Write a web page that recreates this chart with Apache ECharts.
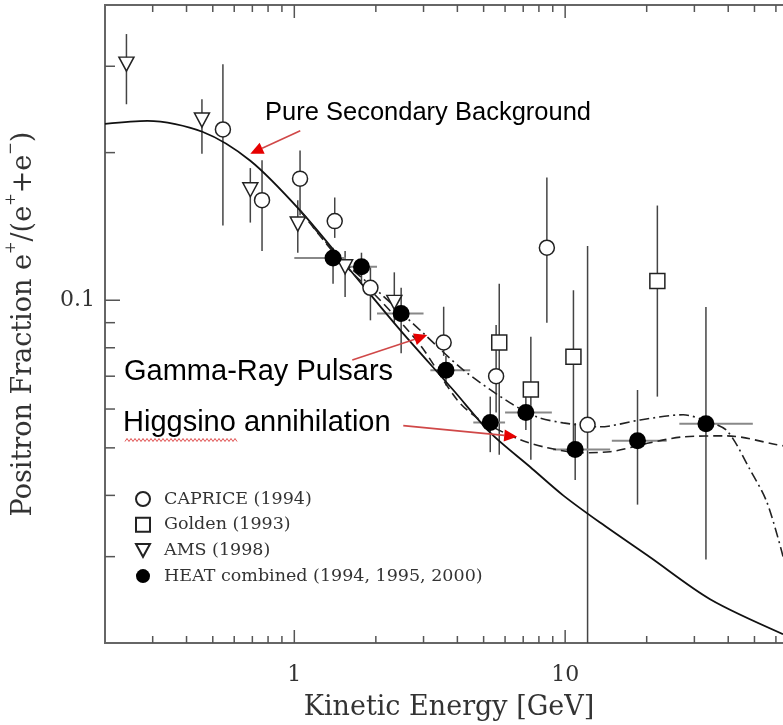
<!DOCTYPE html>
<html><head><meta charset="utf-8">
<script src="https://cdn.jsdelivr.net/npm/echarts@6/dist/echarts.min.js"></script>
<style>html,body{margin:0;padding:0;background:#fff}#c{width:783px;height:725px}</style>
</head><body><div id="c"></div>
<script>
// ---------------- data ----------------
// AMS (1998): [E, fraction, lower, upper]
const amsData = [
  [0.24, 0.303, 0.251, 0.349],
  [0.456, 0.233, 0.199, 0.257],
  [0.688, 0.168, 0.144, 0.186],
  [1.03, 0.143, 0.125, 0.160],
  [1.54, 0.117, 0.1015, 0.126],
  [2.34, 0.099, 0.090, 0.114]
];
// CAPRICE (1994)
const capriceData = [
  [0.545, 0.223, 0.142, 0.303],
  [0.76, 0.160, 0.126, 0.193],
  [1.05, 0.177, 0.149, 0.202],
  [1.41, 0.145, 0.134, 0.162],
  [1.91, 0.106, 0.091, 0.117],
  [3.56, 0.082, 0.077, 0.097],
  [5.56, 0.070, 0.059, 0.089],
  [8.56, 0.128, 0.090, 0.178],
  [12.1, 0.0557, 0.020, 0.129]
];
// Golden (1993)
const goldenData = [
  [5.71, 0.082, 0.0484, 0.108],
  [7.47, 0.0658, 0.0473, 0.0842],
  [10.73, 0.0767, 0.0489, 0.1048],
  [21.9, 0.1095, 0.0636, 0.156]
];
// HEAT combined: [E, fraction, Elow, Ehigh, lower, upper]
const heatData = [
  [1.39, 0.122, 1.0, 1.55, 0.108, 0.128],
  [1.77, 0.117, 1.54, 2.02, 0.108, 0.125],
  [2.48, 0.094, 2.02, 3.0, 0.078, 0.106],
  [3.63, 0.072, 3.18, 4.46, 0.067, 0.077],
  [5.29, 0.0563, 4.58, 6.0, 0.049, 0.0636],
  [7.16, 0.059, 6.0, 8.93, 0.0544, 0.0667],
  [10.89, 0.0496, 9.03, 14.66, 0.043, 0.0562],
  [18.5, 0.0517, 14.87, 23.7, 0.0383, 0.0656],
  [33.1, 0.056, 26.4, 49.3, 0.0296, 0.0969]
];
// model curves
const secondaryCurve = [
  [0.2, 0.229], [0.287, 0.2322], [0.4575, 0.2206], [0.688, 0.1925], [1.052, 0.1523],
  [1.609, 0.1151], [2.461, 0.0869], [3.862, 0.0656], [5.287, 0.0537], [7.43, 0.0457],
  [9.83, 0.0400], [13.46, 0.0352], [20.59, 0.0299], [34.28, 0.02456], [63.75, 0.02085]
];
const pulsarCurve = [
  [1.052, 0.1523], [1.478, 0.1217], [2.076, 0.1033], [2.992, 0.0857], [4.204, 0.0721],
  [6.266, 0.06175], [7.883, 0.0578], [9.83, 0.05623], [13.46, 0.0552], [18.92, 0.0570],
  [27.26, 0.0584], [33.14, 0.05675], [39.61, 0.05416], [48.16, 0.04513], [55.65, 0.03867],
  [63.75, 0.03003]
];
const higgsinoCurve = [
  [1.052, 0.1523], [1.478, 0.1206], [2.076, 0.100], [2.917, 0.081], [3.996, 0.0626],
  [4.857, 0.0570], [6.823, 0.05195], [8.58, 0.05004], [11.36, 0.04887], [14.66, 0.0491],
  [20.59, 0.0512], [27.26, 0.05265], [39.61, 0.0529], [60.57, 0.05075], [70, 0.0500]
];
// axis ticks
const xMajorTicks = [1, 10];
const xMinorTicks = [0.3, 0.4, 0.5, 0.6, 0.7, 0.8, 0.9, 2, 3, 4, 5, 6, 7, 8, 9, 20, 30, 40, 50, 60, 70, 80, 90];
const yMajorTicks = [0.1];
const yMinorTicks = [0.03, 0.04, 0.05, 0.06, 0.07, 0.08, 0.09, 0.2, 0.3];
const xRange = [0.2, 100];
const yRange = [0.02, 0.4];
const seriesNames = ['CAPRICE (1994)', 'Golden (1993)', 'AMS (1998)', 'HEAT combined (1994, 1995, 2000)'];
const curveNames = ['Pure Secondary Background', 'Gamma-Ray Pulsars', 'Higgsino annihilation'];
// annotation arrows: [tail, tip] in data coordinates
const arrowPulsar = [[1.637, 0.0755], [3.096, 0.0849]];
const arrowSecondary = [[1.052, 0.2216], [0.688, 0.199]];
const arrowHiggsino = [[2.525, 0.0555], [6.65, 0.0527]];

// ---------------- chart ----------------
const chart = echarts.init(document.getElementById('c'), null, {renderer: 'canvas'});
const SERIF = 'DejaVu Serif';
const AX = '#555';

function errRender(params, api) {
  const x = api.value(0);
  const lo = api.value(2), hi = api.value(3);
  const a = api.coord([x, lo]), b = api.coord([x, hi]);
  return {type: 'line', shape: {x1: a[0], y1: a[1], x2: b[0], y2: b[1]},
    style: {stroke: '#444', lineWidth: 1.5}};
}
function heatErrRender(params, api) {
  const x = api.value(0), y = api.value(1);
  const xl = api.value(2), xh = api.value(3), yl = api.value(4), yh = api.value(5);
  const a = api.coord([x, yl]), b = api.coord([x, yh]);
  const c = api.coord([xl, y]), d = api.coord([xh, y]);
  return {type: 'group', children: [
    {type: 'line', shape: {x1: a[0], y1: a[1], x2: b[0], y2: b[1]}, style: {stroke: '#444', lineWidth: 1.5}},
    {type: 'line', shape: {x1: c[0], y1: c[1], x2: d[0], y2: d[1]}, style: {stroke: '#888', lineWidth: 2}}
  ]};
}
function xTickRender(params, api) {
  const cs = params.coordSys;
  const p = api.coord([api.value(0), yRange[0]]);
  const L = api.value(2) ? 13 : 7;
  const bot = cs.y + cs.height, top = cs.y;
  return {type: 'group', children: [
    {type: 'line', shape: {x1: p[0], y1: bot, x2: p[0], y2: bot - L}, style: {stroke: AX, lineWidth: 1.5}},
    {type: 'line', shape: {x1: p[0], y1: top, x2: p[0], y2: top + L}, style: {stroke: AX, lineWidth: 1.5}}
  ]};
}
function yTickRender(params, api) {
  const cs = params.coordSys;
  const p = api.coord([xRange[0], api.value(1)]);
  const L = api.value(2) ? 15 : 10;
  const l = cs.x, r = cs.x + cs.width;
  return {type: 'group', children: [
    {type: 'line', shape: {x1: l, y1: p[1], x2: l + L, y2: p[1]}, style: {stroke: AX, lineWidth: 1.5}},
    {type: 'line', shape: {x1: r, y1: p[1], x2: r - L, y2: p[1]}, style: {stroke: AX, lineWidth: 1.5}}
  ]};
}
function decadeLabel(v) {
  const l = Math.log10(v);
  const e = Math.round(l);
  if (Math.abs(l - e) > 1e-6) return '';
  return e >= 0 ? String(Math.pow(10, e)) : Math.pow(10, e).toFixed(-e);
}

const xTickData = xMajorTicks.map(v => [v, yRange[0], 1]).concat(xMinorTicks.map(v => [v, yRange[0], 0]));
const yTickData = yMajorTicks.map(v => [xRange[0], v, 1]).concat(yMinorTicks.map(v => [xRange[0], v, 0]));

const lineBase = {type: 'line', showSymbol: false, symbol: 'none', smooth: 0.3, z: 3, silent: true, clip: true};
const openStyle = {color: '#fff', borderColor: '#222', borderWidth: 1.5, opacity: 1};

const option = {
  animation: false,
  backgroundColor: '#fff',
  grid: {left: 105, top: 5, width: 731, height: 638, outerBoundsMode: 'none', containLabel: false,
    show: true, borderColor: '#666', borderWidth: 2, backgroundColor: 'transparent'},
  xAxis: {
    type: 'log', logBase: 10, min: xRange[0], max: xRange[1],
    axisLine: {show: false}, axisTick: {show: false}, splitLine: {show: false}, minorTick: {show: false},
    axisLabel: {formatter: decadeLabel, fontFamily: SERIF, fontSize: 22, color: '#333', margin: 21, hideOverlap: false}
  },
  yAxis: {
    type: 'log', logBase: 10, min: yRange[0], max: yRange[1],
    axisLine: {show: false}, axisTick: {show: false}, splitLine: {show: false},
    axisLabel: {formatter: decadeLabel, fontFamily: SERIF, fontSize: 22, color: '#333', margin: 10},
    name: '{a|Positron Fraction e}{s|+}{a|/(e}{s|+}{a|+e}{s|\u2212}{a|)}',
    nameLocation: 'middle', nameGap: 68, nameRotate: 90,
    nameTextStyle: {rich: {
      a: {fontFamily: SERIF, fontSize: 27, color: '#333', lineHeight: 33, verticalAlign: 'bottom'},
      s: {fontFamily: SERIF, fontSize: 15, color: '#333', lineHeight: 33, verticalAlign: 'top'}
    }}
  },
  legend: {
    orient: 'vertical', left: 130, top: 485, itemWidth: 14, itemHeight: 14, itemGap: 7.7,
    data: seriesNames,
    textStyle: {fontFamily: SERIF, fontSize: 17.5, color: '#333', lineHeight: 14, padding: [0, 0, 0, 9]},
    selectedMode: false
  },
  series: [
    // ticks
    {type: 'custom', renderItem: xTickRender, data: xTickData, encode: {x: 0, y: 1}, z: 1, silent: true},
    {type: 'custom', renderItem: yTickRender, data: yTickData, encode: {x: 0, y: 1}, z: 1, silent: true},
    // curves
    Object.assign({}, lineBase, {name: curveNames[0], data: secondaryCurve, lineStyle: {color: '#111', width: 1.8, type: 'solid'}}),
    Object.assign({}, lineBase, {name: curveNames[1], data: pulsarCurve, lineStyle: {color: '#222', width: 1.6, type: [10, 4, 2, 4]}}),
    Object.assign({}, lineBase, {name: curveNames[2], data: higgsinoCurve, lineStyle: {color: '#222', width: 1.6, type: [9, 5]}}),
    // error bars
    {type: 'custom', renderItem: errRender, data: amsData, encode: {x: 0, y: 1}, z: 2, silent: true},
    {type: 'custom', renderItem: errRender, data: capriceData, encode: {x: 0, y: 1}, z: 2, silent: true},
    {type: 'custom', renderItem: errRender, data: goldenData, encode: {x: 0, y: 1}, z: 2, silent: true},
    {type: 'custom', renderItem: heatErrRender, data: heatData, encode: {x: 0, y: 1}, z: 2, silent: true},
    // markers
    {type: 'scatter', name: seriesNames[0], data: capriceData.map(d => [d[0], d[1]]), symbol: 'circle', symbolSize: 15,
      itemStyle: openStyle, z: 5},
    {type: 'scatter', name: seriesNames[1], data: goldenData.map(d => [d[0], d[1]]), symbol: 'rect', symbolSize: 15,
      itemStyle: openStyle, z: 5},
    {type: 'scatter', name: seriesNames[2], data: amsData.map(d => [d[0], d[1]]), symbol: 'path://M0,0L12,0L6,11Z', symbolSize: [15, 14],
      itemStyle: openStyle, z: 5},
    {type: 'scatter', name: seriesNames[3], data: heatData.map(d => [d[0], d[1]]), symbol: 'circle', symbolSize: 17,
      itemStyle: {color: '#000', borderColor: '#000', borderWidth: 0, opacity: 1}, z: 6}
  ]
};
chart.setOption(option);

// ---------- annotations ----------
function arrow(pair) {
  const a = chart.convertToPixel({gridIndex: 0}, pair[0]);
  const b = chart.convertToPixel({gridIndex: 0}, pair[1]);
  const ang = Math.atan2(b[1] - a[1], b[0] - a[0]);
  const L = 13, W = 6;
  const bx = b[0] - L * Math.cos(ang), by = b[1] - L * Math.sin(ang);
  const nx = -Math.sin(ang) * W, ny = Math.cos(ang) * W;
  return [
    {type: 'line', shape: {x1: a[0], y1: a[1], x2: bx, y2: by}, style: {stroke: '#d04848', lineWidth: 1.6}, z: 20},
    {type: 'polygon', shape: {points: [[b[0], b[1]], [bx + nx, by + ny], [bx - nx, by - ny]]}, style: {fill: '#e60000'}, z: 20}
  ];
}
const squiggle = [];
for (let i = 0; i <= 56; i++) squiggle.push([125 + i * 2, 440 + (i % 2 ? -1.5 : 1.5)]);

chart.setOption({graphic: [].concat(
  arrow(arrowSecondary), arrow(arrowPulsar), arrow(arrowHiggsino),
  [
    {type: 'text', left: 265, top: 100, z: 21, style: {text: curveNames[0], font: '25.5px "Liberation Sans", Arial, sans-serif', fill: '#000'}},
    {type: 'text', left: 124, top: 357, z: 21, style: {text: curveNames[1], font: '29px "Liberation Sans", Arial, sans-serif', fill: '#000'}},
    {type: 'text', left: 123, top: 408, z: 21, style: {text: curveNames[2], font: '29px "Liberation Sans", Arial, sans-serif', fill: '#000'}},
    {type: 'polyline', shape: {points: squiggle}, style: {stroke: '#e05050', lineWidth: 1, fill: null}, z: 21},
    {type: 'text', x: 449, y: 708, z: 21, style: {text: 'Kinetic Energy [GeV]', font: '27px "DejaVu Serif", serif', fill: '#333', align: 'center', verticalAlign: 'middle'}}
  ]
)});
</script></body></html>
